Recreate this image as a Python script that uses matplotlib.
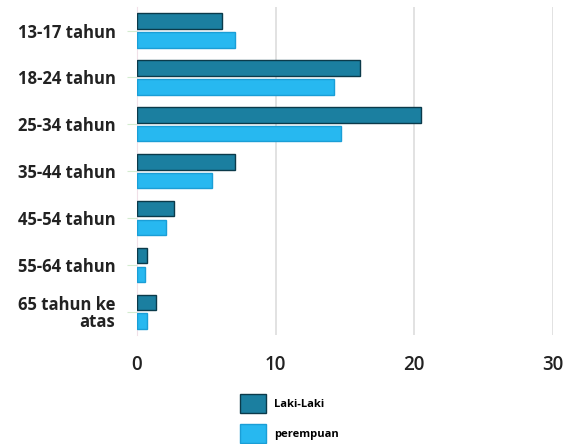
import numpy as np
import matplotlib.pyplot as plt
from matplotlib.patches import Patch

kategori = ["13-17 tahun", "18-24 tahun", "25-34 tahun", "35-44 tahun",
            "45-54 tahun", "55-64 tahun", "65 tahun ke\natas"]
laki = [6.1, 16.1, 20.5, 7.1, 2.7, 0.7, 1.4]
perempuan = [7.1, 14.2, 14.7, 5.4, 2.1, 0.6, 0.7]
xticks = [0, 10, 20, 30]

plt.rcParams['font.family'] = ['Open Sans', 'DejaVu Sans']

fig = plt.figure(figsize=(5.67, 4.44), dpi=100)
ax = fig.add_axes([0.2416, 0.245, 0.7334, 0.739])

y = np.arange(len(kategori))
h = 0.33
ax.barh(y - 0.2, laki, height=h, color="#1b7fa0", edgecolor="#0b3a4a", linewidth=1.0,
        label="Laki-Laki", zorder=3)
ax.barh(y + 0.2, perempuan, height=h, color="#27b8f0", edgecolor="#1a9ed6", linewidth=1.0,
        label="perempuan", zorder=3)

ax.set_xlim(0, 30)
ax.set_ylim(6.5, -0.5)
ax.set_xticks(xticks)
ax.set_xticklabels([str(v) for v in xticks], fontsize=13.5, fontweight="semibold", color="#222222")
ax.set_yticks(y)
ax.set_yticklabels(kategori, fontsize=12, fontweight="bold", color="#222222",
                   linespacing=0.95)
ax.tick_params(axis="y", length=7, color="#d4ecd0", pad=8.5)
ax.tick_params(axis="x", length=0, pad=14)
ax.grid(axis="x", color="#dddddd", linewidth=1.2, zorder=0)
for s in ["top", "right", "bottom"]:
    ax.spines[s].set_visible(False)
ax.spines["left"].set_color("#f0e0e8")

handles = [Patch(facecolor="#1b7fa0", edgecolor="#0b3a4a", label="Laki-Laki"),
           Patch(facecolor="#27b8f0", edgecolor="#1a9ed6", label="perempuan")]
fig.legend(handles=handles, loc="lower left", bbox_to_anchor=(0.405, -0.02), frameon=False,
           handlelength=2.4, handleheight=2.2, labelspacing=1.05, handletextpad=0.7,
           prop={"weight": "bold", "size": 8})

fig.savefig("out.png", dpi=100)
